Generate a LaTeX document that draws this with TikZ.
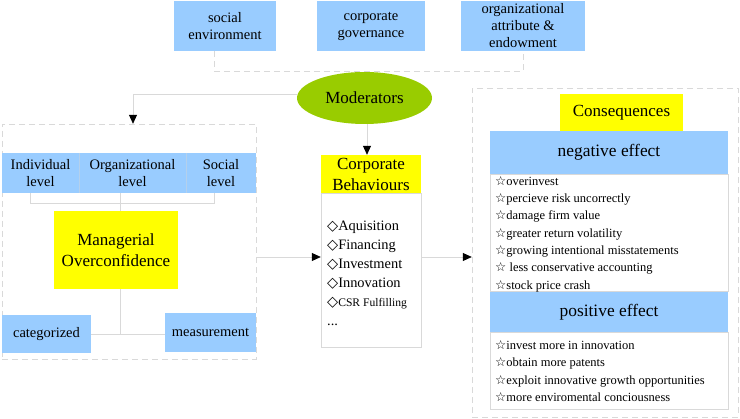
\documentclass[tikz,border=0pt]{standalone}
\usepackage{fontspec}
\setmainfont{Liberation Serif}
\newfontfamily\symfont{DejaVu Sans}
\usetikzlibrary{arrows.meta,shapes.geometric,positioning}
\definecolor{skyblue}{HTML}{99CCFF}
\definecolor{hiyellow}{HTML}{FFFF00}
\definecolor{leafgreen}{HTML}{99CC00}
\definecolor{paleline}{HTML}{D9D9D9}
\definecolor{sepblue}{HTML}{B4D0EC}
\newcommand{\dia}{{\symfont ◇}}
\newcommand{\str}{{\symfont ☆}}

\begin{document}
\begin{tikzpicture}[x=1pt,y=-1pt,>={Triangle[length=9pt,width=8pt,color=black]},
  every node/.style={inner sep=0pt,align=center},
  bluebox/.style={fill=skyblue,font=\fontsize{14.5}{17}\selectfont},
  yelbox/.style={fill=hiyellow,font=\fontsize{17}{21}\selectfont},
  listbox/.style={draw=paleline,fill=white},
  dashbox/.style={draw=paleline,dashed,dash pattern=on 6pt off 4pt},
  tree/.style={draw=paleline,thick},
  conn/.style={draw=paleline,thick,->}]
\useasboundingbox (0,0) rectangle (740,419);

% moderators
\node[bluebox,minimum width=102,minimum height=50] (social) at (225,26) {social\\environment};
\node[bluebox,minimum width=108,minimum height=50] (gov) at (371,26) {corporate\\governance};
\node[bluebox,minimum width=124,minimum height=50] (orgattr) at (523,26) {organizational\\attribute \&\\endowment};
\node[ellipse,fill=leafgreen,minimum width=135,minimum height=52,font=\fontsize{17}{21}\selectfont] (moderators) at (364.5,98) {Moderators};
\coordinate (modtop) at (371,71);
\draw[dashbox] ([xshift=-11]social.south) |- (modtop) -| (orgattr.south);

% managerial overconfidence
\node[dashbox,minimum width=254,minimum height=235] (mofield) at (129,241.5) {};
\node[bluebox,minimum width=77,minimum height=40] (ind) at (40.5,173) {Individual\\level};
\node[bluebox,minimum width=107,minimum height=40] (orgl) at (132.5,173) {Organizational\\level};
\node[bluebox,minimum width=70,minimum height=40] (soc) at (221,173) {Social\\level};
\draw[sepblue] (ind.north east) -- (ind.south east);
\draw[sepblue] (orgl.north east) -- (orgl.south east);
\node[yelbox,minimum width=124,minimum height=78] (mo) at (116,250) {Managerial\\Overconfidence};
\node[bluebox,minimum width=89,minimum height=38] (categorized) at (46.5,334) {categorized};
\node[bluebox,minimum width=91,minimum height=39] (measurement) at (210.5,332.5) {measurement};
\draw[tree] ([xshift=-10]ind.south) -- ++(0,10) -| ([xshift=-7]soc.south);
\draw[tree] ([xshift=-12]orgl.south) -- ([xshift=-12]orgl.south |- mo.north);
\draw[tree] ([xshift=4]mo.south) -- ([xshift=4]mo.south |- categorized.east);
\draw[tree] (categorized.east) -- (categorized.east -| measurement.west);

% corporate behaviours
\node[yelbox,minimum width=100,minimum height=38] (corphead) at (371,174) {Corporate\\Behaviours};
\node[listbox,minimum width=100,minimum height=154,below=0pt of corphead] (corplist) {};
\node[anchor=west,align=left,font=\fontsize{14.4}{19}\selectfont] (corpitems) at (327,273)
  {\dia Aquisition\\ \dia Financing\\ \dia Investment\\ \dia Innovation\\
   \dia{\fontsize{11.6}{19}\selectfont CSR Fulfilling}\\ ...};

% consequences
\node[dashbox,minimum width=266,minimum height=329] (consfield) at (605,252.5) {};
\node[yelbox,minimum width=123,minimum height=37] (conshead) at (621.5,112.5) {Consequences};
\node[fill=skyblue,minimum width=238,minimum height=43,font=\fontsize{17.4}{21}\selectfont] (negeff) at (609,152.5) {negative effect};
\node[listbox,minimum width=238,minimum height=117,below=0pt of negeff] (neglist) {};
\node[anchor=west,align=left,font=\fontsize{12.5}{17.3}\selectfont] (negitems) at (495,234)
  {\str overinvest\\ \str percieve risk uncorrectly\\ \str damage firm value\\
   \str greater return volatility\\ \str growing intentional misstatements\\
   \str{} less conservative accounting\\ \str stock price crash};
\node[fill=skyblue,minimum width=238,minimum height=40,font=\fontsize{17.4}{21}\selectfont,below=0pt of neglist] (poseff) {positive effect};
\node[listbox,minimum width=238,minimum height=77,below=0pt of poseff] (poslist) {};
\node[anchor=west,align=left,font=\fontsize{12.5}{17.3}\selectfont] (positems) at (495,371)
  {\str invest more in innovation\\ \str obtain more patents\\
   \str exploit innovative growth opportunities\\ \str more enviromental conciousness};

% flow
\coordinate (flow) at (0,257);
\draw[conn] ([yshift=4]moderators.west) -| ([xshift=4]mofield.north);
\draw[conn] ([xshift=-4]corphead.north |- moderators.south) -- ([xshift=-4]corphead.north);
\draw[conn] (mofield.east |- flow) -- (corplist.west |- flow);
\draw[conn] (corplist.east |- flow) -- (consfield.west |- flow);
\end{tikzpicture}
\end{document}
